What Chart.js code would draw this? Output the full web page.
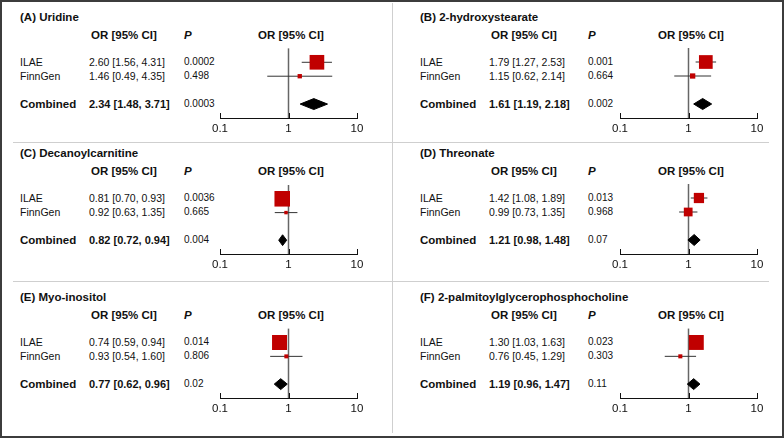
<!DOCTYPE html>
<html>
<head>
<meta charset="utf-8">
<script src="https://cdn.jsdelivr.net/npm/chart.js@4.4.1/dist/chart.umd.min.js"></script>
<style>
  html, body { margin: 0; padding: 0; background: #fff; }
  #root {
    position: relative; width: 784px; height: 438px; overflow: hidden;
    font-family: Arial, "Liberation Sans", sans-serif; color: #111;
  }
  #frame {
    position: absolute; left: 0; top: 0; width: 784px; height: 438px;
    box-sizing: border-box; border: 2px solid #3c3c3c; z-index: 5;
  }
  .sep { position: absolute; background: #cfcfcf; }
  .t { position: absolute; white-space: nowrap; line-height: 14px; height: 14px; }
  .title { font-size: 11.5px; font-weight: bold; }
  .head { font-size: 11.5px; font-weight: bold; }
  .row { font-size: 10.5px; }
  .pval { font-size: 10px; }
  .comb { font-size: 11.5px; font-weight: bold; }
  .combor { font-size: 11px; font-weight: bold; }
  canvas { position: absolute; }
</style>
</head>
<body>
<div id="root">
  <div id="frame"></div>
  <div class="sep" style="left:392px; top:3px; width:1px; height:430px;"></div>
  <div class="sep" style="left:13px; top:142px; width:756px; height:1px;"></div>
  <div class="sep" style="left:13px; top:281px; width:756px; height:1px;"></div>
</div>
<script>
// panel data
const panelTitles = ['(A) Uridine', '(B) 2-hydroxystearate', '(C) Decanoylcarnitine',
                     '(D) Threonate', '(E) Myo-inositol', '(F) 2-palmitoylglycerophosphocholine'];
const studyNames = ['ILAE', 'FinnGen'];
const combinedName = 'Combined';

const ilaeOR = [2.60, 1.79, 0.81, 1.42, 0.74, 1.30];
const ilaeLo = [1.56, 1.27, 0.70, 1.08, 0.59, 1.03];
const ilaeHi = [4.31, 2.53, 0.93, 1.89, 0.94, 1.63];
const ilaeP  = ['0.0002', '0.001', '0.0036', '0.013', '0.014', '0.023'];

const finnOR = [1.46, 1.15, 0.92, 0.99, 0.93, 0.76];
const finnLo = [0.49, 0.62, 0.63, 0.73, 0.54, 0.45];
const finnHi = [4.35, 2.14, 1.35, 1.35, 1.60, 1.29];
const finnP  = ['0.498', '0.664', '0.665', '0.968', '0.806', '0.303'];

const combOR = [2.34, 1.61, 0.82, 1.21, 0.77, 1.19];
const combLo = [1.48, 1.19, 0.72, 0.98, 0.62, 0.96];
const combHi = [3.71, 2.18, 0.94, 1.48, 0.96, 1.47];
const combP  = ['0.0003', '0.002', '0.004', '0.07', '0.02', '0.11'];

const xTicks = [0.1, 1, 10];

// layout
const panelLeft = [0, 400, 0, 400, 0, 400];
const axisBase = [118, 118, 254, 254, 398, 398];
const ROW = 14;                  // px per y unit
const yIlae = 4, yFinn = 3, yComb = 1, yTop = 5;
const RED = '#c00000';

const root = document.getElementById('root');

function addText(str, x, y, cls, center) {
  const el = document.createElement('div');
  el.className = 't ' + cls;
  el.textContent = str;
  el.style.left = x + 'px';
  el.style.top = (y - 7) + 'px';
  if (center) el.style.transform = 'translateX(-50%)';
  root.appendChild(el);
  return el;
}

function fmtCI(or, lo, hi) {
  return or.toFixed(2) + ' [' + lo.toFixed(2) + ', ' + hi.toFixed(2) + ']';
}

function weightOf(lo, hi) {
  const se = (Math.log(hi) - Math.log(lo)) / (2 * 1.96);
  return 1 / (se * se);
}

// upward tick marks on the OR axis
const axisTicks = {
  id: 'axisTicks',
  afterDraw(chart) {
    const x = chart.scales.x, ctx = chart.ctx;
    const base = chart.chartArea.bottom;
    ctx.save();
    ctx.strokeStyle = '#111';
    ctx.lineWidth = 1;
    xTicks.forEach(v => {
      const px = Math.round(x.getPixelForValue(v)) + 0.5;
      ctx.beginPath();
      ctx.moveTo(px, base - 5);
      ctx.lineTo(px, base + 1);
      ctx.stroke();
    });
    ctx.restore();
  }
};

function line(points, color, width, order) {
  return {
    data: points, showLine: true, borderColor: color, borderWidth: width,
    pointRadius: 0, fill: false, tension: 0, order: order, clip: false
  };
}

function makePanel(i) {
  const px = panelLeft[i];
  const ay = axisBase[i];
  const right = px === 400;
  const colLabel = px + 20, colOR = px + 89, colP = right ? 588 : 184;

  addText(panelTitles[i], colLabel, ay - 101, 'title');
  addText('OR [95% CI]', colOR + 2, ay - 83, 'head');
  const ph = addText('P', colP, ay - 83, 'head');
  ph.style.fontStyle = 'italic';
  addText('OR [95% CI]', px + 291, ay - 83, 'head', true);

  addText(studyNames[0], colLabel, ay - yIlae * ROW, 'row');
  addText(fmtCI(ilaeOR[i], ilaeLo[i], ilaeHi[i]), colOR, ay - yIlae * ROW, 'row');
  addText(ilaeP[i], colP, ay - yIlae * ROW, 'pval');

  addText(studyNames[1], colLabel, ay - yFinn * ROW, 'row');
  addText(fmtCI(finnOR[i], finnLo[i], finnHi[i]), colOR, ay - yFinn * ROW, 'row');
  addText(finnP[i], colP, ay - yFinn * ROW, 'pval');

  addText(combinedName, colLabel, ay - yComb * ROW, 'comb');
  addText(fmtCI(combOR[i], combLo[i], combHi[i]), colOR, ay - yComb * ROW, 'combor');
  addText(combP[i], colP, ay - yComb * ROW, 'pval');

  // box sizes from inverse-variance weights
  const wI = weightOf(ilaeLo[i], ilaeHi[i]);
  const wF = weightOf(finnLo[i], finnHi[i]);
  const boxI = 16 * wI / (wI + wF) + 1.5;
  const boxF = 16 * wF / (wI + wF) + 1.5;
  const dh = 5.5 / ROW;

  const cv = document.createElement('canvas');
  cv.width = 190; cv.height = 102;
  cv.style.left = (px + 190) + 'px';
  cv.style.top = (ay - 80) + 'px';
  root.appendChild(cv);

  new Chart(cv, {
    type: 'scatter',
    data: {
      datasets: [
        line([{x: 1, y: 0}, {x: 1, y: yTop}], '#666', 1.5, 10),
        line([{x: ilaeLo[i], y: yIlae}, {x: ilaeHi[i], y: yIlae}], '#333', 1, 5),
        line([{x: finnLo[i], y: yFinn}, {x: finnHi[i], y: yFinn}], '#333', 1, 5),
        {
          data: [{x: ilaeOR[i], y: yIlae}, {x: finnOR[i], y: yFinn}],
          pointStyle: 'rect',
          pointRadius: [boxI / (2 * Math.SQRT1_2), boxF / (2 * Math.SQRT1_2)],
          backgroundColor: RED, borderWidth: 0, order: 1, clip: false
        },
        {
          data: [{x: combLo[i], y: yComb}, {x: combOR[i], y: yComb + dh},
                 {x: combHi[i], y: yComb}, {x: combOR[i], y: yComb - dh},
                 {x: combLo[i], y: yComb}],
          showLine: true, fill: 'shape', tension: 0, pointRadius: 0,
          borderColor: '#000', backgroundColor: '#000', borderWidth: 1,
          order: 1, clip: false
        }
      ]
    },
    options: {
      responsive: false,
      animation: false,
      events: [],
      layout: { padding: { left: 30, right: 23, top: 10, bottom: 0 } },
      plugins: { legend: { display: false }, tooltip: { enabled: false } },
      scales: {
        x: {
          type: 'logarithmic', min: 0.1, max: 10,
          afterBuildTicks: s => { s.ticks = xTicks.map(v => ({ value: v })); },
          afterFit: s => { s.height = 22; },
          grid: { display: false, drawTicks: false },
          border: { display: true, color: '#111', width: 1 },
          ticks: {
            padding: 4, color: '#111', maxRotation: 0,
            font: { family: 'Arial, "Liberation Sans", sans-serif', size: 11.5 },
            callback: v => String(v)
          }
        },
        y: { type: 'linear', min: 0, max: yTop, display: false }
      }
    },
    plugins: [axisTicks]
  });
}

for (let i = 0; i < panelTitles.length; i++) makePanel(i);
</script>
</body>
</html>
